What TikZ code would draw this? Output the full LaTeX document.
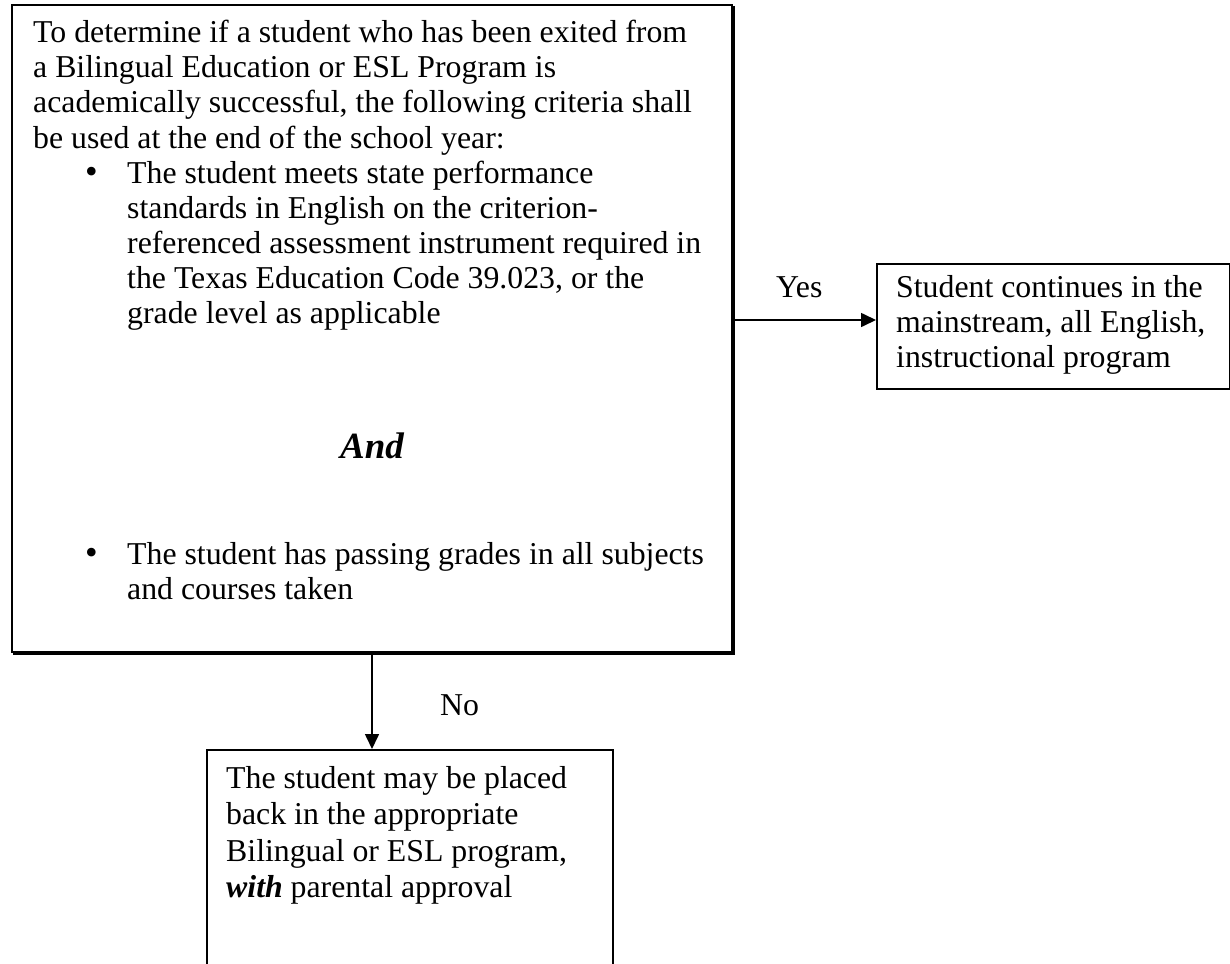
\documentclass[tikz,border=0pt]{standalone}
\usepackage{fontspec}
\setmainfont{Liberation Serif}
\usetikzlibrary{arrows.meta,calc}
\begin{document}
\begin{tikzpicture}[x=1pt,y=-1pt,
  box/.style={draw, line width=2pt, inner sep=0pt, anchor=north west},
  txt/.style={anchor=base west, inner sep=0pt, font=\fontsize{31.8}{35}\selectfont},
  dot/.style={anchor=base west, inner sep=0pt, font=\fontsize{36}{35}\selectfont},
  flow/.style={line width=1.6pt, -{Triangle[length=15pt,width=14pt]}}
]
\useasboundingbox (0,0) rectangle (1230,963);

% decision box with its drop shadow on the right and bottom
\node[box, minimum width=720pt, minimum height=647pt] (main) at (11,4) {};
\draw[line width=2pt] ($(main.north east)+(1,2)$) -- ($(main.south east)+(1,1)$) -- ($(main.south west)+(2,1)$);

% outcome boxes
\node[box, minimum width=353pt, minimum height=125pt] (yesbox) at (876,263) {};
\node[box, minimum width=406pt, minimum height=216pt] (nobox) at (206,749) {};

% criteria text
\node[txt] (m1) at (33,43)  {To determine if a student who has been exited from};
\node[txt] (m2) at (33,78)  {a Bilingual Education or ESL Program is};
\node[txt] (m3) at (33,113) {academically successful, the following criteria shall};
\node[txt] (m4) at (33,148) {be used at the end of the school year:};
\node[dot] (b1) at (85,183) {\textbullet};
\node[txt] (c1) at (127,183) {The student meets state performance};
\node[txt] (c2) at (127,218) {standards in English on the criterion-};
\node[txt] (c3) at (127,253) {referenced assessment instrument required in};
\node[txt] (c4) at (127,288) {the Texas Education Code 39.023, or the};
\node[txt] (c5) at (127,323) {grade level as applicable};
\node[anchor=base, inner sep=0pt, font=\fontsize{37}{42}\selectfont\bfseries\itshape] (and) at (372,458) {And};
\node[dot] (b2) at (85,564) {\textbullet};
\node[txt] (d1) at (127,564) {The student has passing grades in all subjects};
\node[txt] (d2) at (127,599) {and courses taken};

% outcome texts
\node[txt] (y1) at (896,297) {Student continues in the};
\node[txt] (y2) at (896,332) {mainstream, all English,};
\node[txt] (y3) at (896,367) {instructional program};

\node[txt] (n1) at (226,788)   {The student may be placed};
\node[txt] (n2) at (226,824.6) {back in the appropriate};
\node[txt] (n3) at (226,861.2) {Bilingual or ESL program,};
\node[txt] (n4) at (226,897.8) {\textbf{\textit{with}} parental approval};

% connectors and their labels
\draw[flow] ([xshift=2pt,yshift=6.5pt]main.east |- yesbox.west) -- ([yshift=6.5pt]yesbox.west);
\node[txt] (yes) at (776,297) {Yes};
\draw[flow] ([yshift=-1pt]main.south) -- (main.south |- nobox.north);
\node[txt] (no) at (440,715) {No};
\end{tikzpicture}
\end{document}
